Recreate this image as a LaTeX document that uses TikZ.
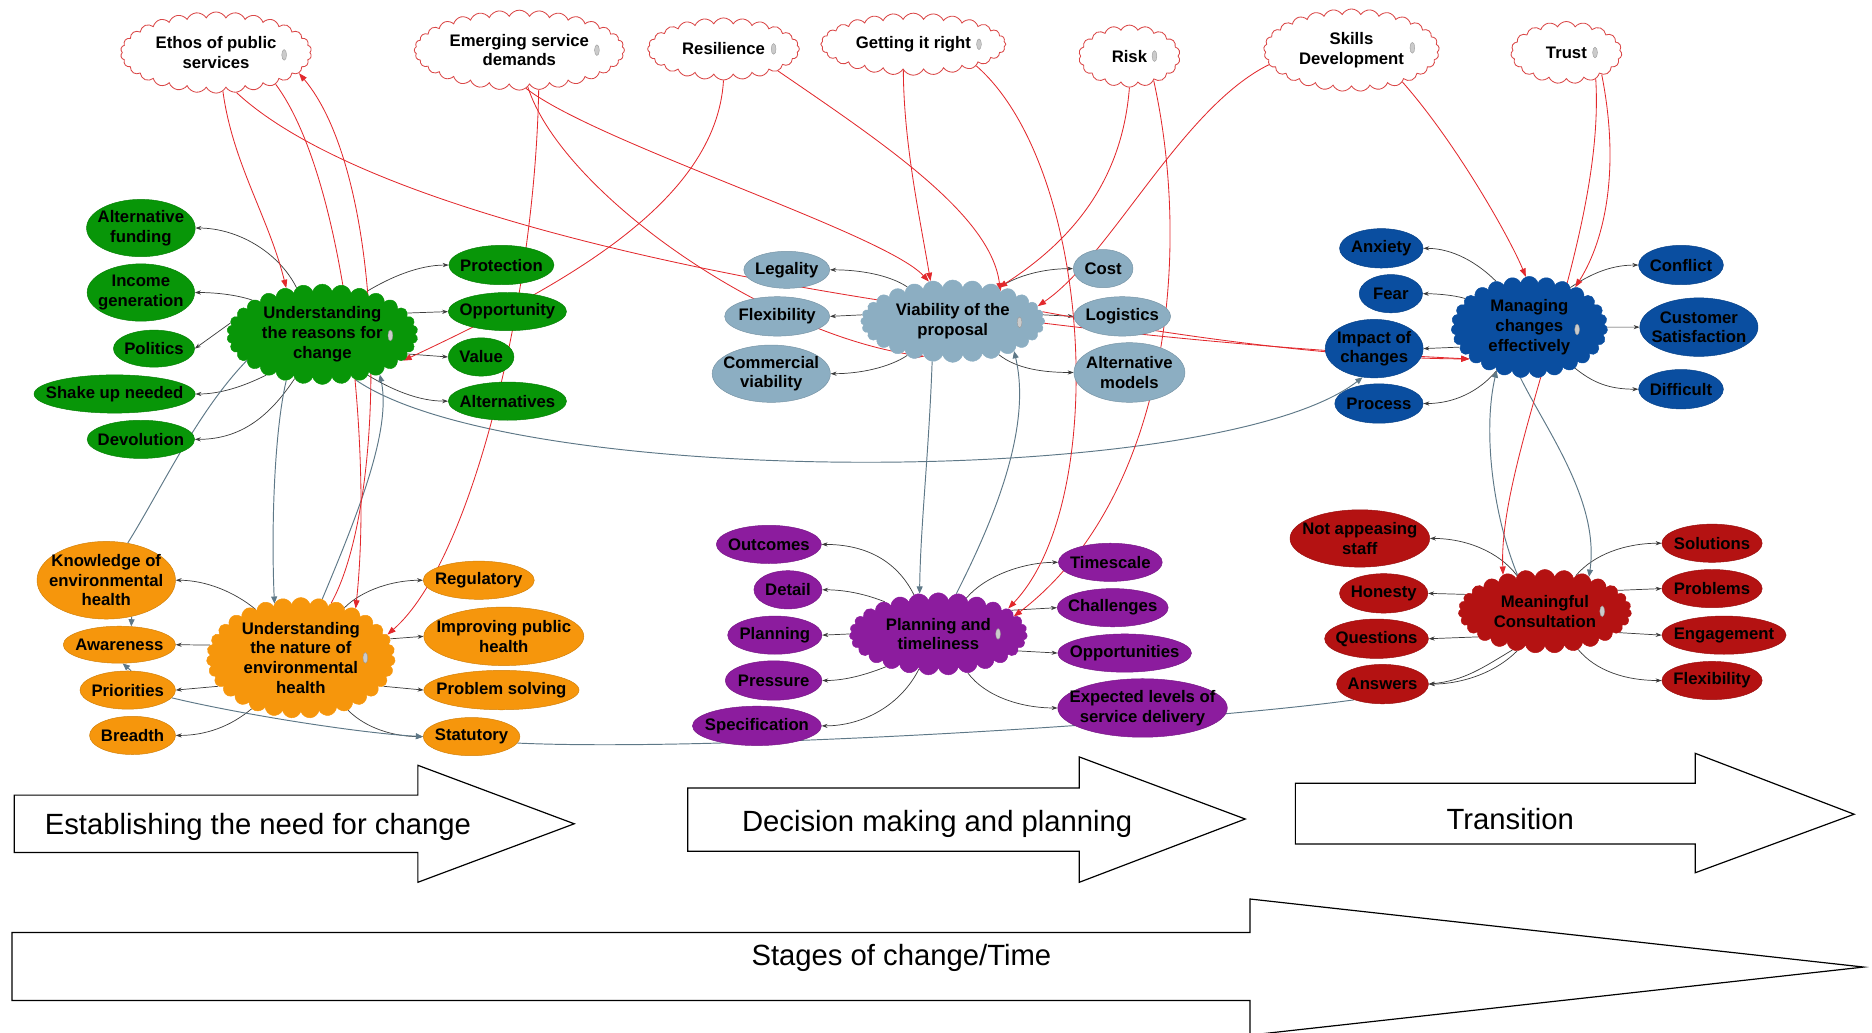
\documentclass[tikz,border=0pt]{standalone}
\usepackage{fontspec}
\setmainfont{Liberation Sans}
\usetikzlibrary{shapes.geometric,shapes.symbols,arrows.meta}
\pgfdeclarelayer{background}
\pgfsetlayers{background,main}
\definecolor{grn}{RGB}{8,150,8}
\definecolor{org}{RGB}{246,150,12}
\definecolor{slb}{RGB}{140,174,194}
\definecolor{pur}{RGB}{140,28,158}
\definecolor{blu}{RGB}{10,78,160}
\definecolor{crd}{RGB}{180,18,18}
\definecolor{lnred}{RGB}{226,40,44}
\definecolor{lnslate}{RGB}{94,120,135}
\definecolor{lndark}{RGB}{60,60,60}
\definecolor{cloudedge}{RGB}{218,70,70}
\definecolor{clipgray}{RGB}{150,150,150}

\begin{document}
\begin{tikzpicture}[x=1pt,y=-1pt,
  every node/.style={font=\fontsize{14}{16.5}\selectfont\bfseries, align=center},
  topic/.style={cloud, cloud ignores aspect, draw=cloudedge, line width=0.7pt, fill=white,
                cloud puff arc=125, inner xsep=-12pt, inner ysep=-4pt},
  hub/.style={cloud, cloud ignores aspect, fill=#1, draw=#1, cloud puff arc=150,
              inner xsep=-18pt, inner ysep=-8pt},
  sat/.style={ellipse, fill=#1, draw=#1!85!black, line width=0.4pt, inner xsep=-12pt, inner ysep=-6pt},
  sub/.style={draw=lndark, line width=0.6pt, -{Stealth[length=5pt,width=3.5pt]}},
  xlink/.style={draw=lnslate, line width=0.8pt},
  xarrow/.style={xlink, -{Triangle[length=6pt,width=5pt]}},
  rlink/.style={draw=lnred, line width=0.7pt},
  rarrow/.style={rlink, -{Triangle[length=7pt,width=5pt]}},
  stage/.style={draw=black, line width=1pt, fill=white},
  stagetext/.style={font=\fontsize{24.5}{28}\selectfont},
  pclip/.style={ellipse, fill=clipgray!50, draw=clipgray, line width=0.3pt,
                minimum width=4pt, minimum height=9pt, inner sep=0pt},
]
\useasboundingbox (0,0) rectangle (1568,865);

% ---------- themes (top row) ----------
\node[topic, cloud puffs=30, minimum width=160pt, minimum height=68pt] (eth) at (181,44) {Ethos of public\\services};
\node[topic, cloud puffs=32, minimum width=176pt, minimum height=67pt] (emg) at (435,42) {Emerging service\\demands};
\node[topic, cloud puffs=24, minimum width=127pt, minimum height=52pt] (res) at (606,41) {Resilience};
\node[topic, cloud puffs=28, minimum width=155pt, minimum height=52pt] (get) at (765,37) {Getting it right};
\node[topic, cloud puffs=18, minimum width=85pt, minimum height=52pt] (risk) at (946,47) {Risk};
\node[topic, cloud puffs=29, minimum width=147pt, minimum height=69pt] (skl) at (1132,42) {Skills\\Development};
\node[topic, cloud puffs=19, minimum width=93pt, minimum height=52pt] (tru) at (1312,44) {Trust};

% ---------- hubs ----------
\node[hub=grn, cloud puffs=30, minimum width=160pt, minimum height=84pt] (G) at (270,280) {Understanding\\the reasons for\\change};
\node[hub=org, cloud puffs=31, minimum width=158pt, minimum height=101pt] (O) at (252,551) {Understanding\\the nature of\\environmental\\health};
\node[hub=slb, cloud puffs=28, minimum width=154pt, minimum height=69pt] (V) at (798,269) {Viability of the\\proposal};
\node[hub=pur, cloud puffs=27, minimum width=149pt, minimum height=69pt] (P) at (786,531) {Planning and\\timeliness};
\node[hub=blu, cloud puffs=27, minimum width=131pt, minimum height=85pt] (M) at (1281,274) {Managing\\changes\\effectively};
\node[hub=crd, cloud puffs=27, minimum width=145pt, minimum height=70pt] (C) at (1294,512) {Meaningful\\Consultation};

% ---------- attachment marks ----------
\node[pclip] (k1) at (238,46) {};
\node[pclip] (k2) at (500,42) {};
\node[pclip] (k3) at (648,41) {};
\node[pclip] (k4) at (820,37) {};
\node[pclip] (k5) at (967,47) {};
\node[pclip] (k6) at (1183,40) {};
\node[pclip] (k7) at (1336,44) {};
\node[pclip] (k8) at (327,281) {};
\node[pclip] (k9) at (306,551) {};
\node[pclip] (k10) at (854,270) {};
\node[pclip] (k11) at (836,531) {};
\node[pclip] (k12) at (1321,276) {};
\node[pclip] (k13) at (1342,512) {};

% ---------- green satellites ----------
\node[sat=grn, minimum width=91pt, minimum height=48pt] (gaf) at (118,191) {Alternative\\funding};
\node[sat=grn, minimum width=90pt, minimum height=48pt] (gig) at (118,245) {Income\\generation};
\node[sat=grn, minimum width=68pt, minimum height=31pt] (gpo) at (129,292) {Politics};
\node[sat=grn, minimum width=135pt, minimum height=32pt] (gsu) at (96,330) {Shake up needed};
\node[sat=grn, minimum width=90pt, minimum height=32pt] (gde) at (118,368) {Devolution};
\node[sat=grn, minimum width=88pt, minimum height=33pt] (gpr) at (420,222) {Protection};
\node[sat=grn, minimum width=99pt, minimum height=32pt] (gop) at (425,261) {Opportunity};
\node[sat=grn, minimum width=55pt, minimum height=32pt] (gva) at (403,299) {Value};
\node[sat=grn, minimum width=99pt, minimum height=32pt] (gal) at (425,336) {Alternatives};

% ---------- orange satellites ----------
\node[sat=org, minimum width=116pt, minimum height=65pt] (okn) at (89,486) {Knowledge of\\environmental\\health};
\node[sat=org, minimum width=94pt, minimum height=31pt] (oaw) at (100,540) {Awareness};
\node[sat=org, minimum width=80pt, minimum height=32pt] (opr) at (107,578) {Priorities};
\node[sat=org, minimum width=72pt, minimum height=32pt] (obr) at (111,616) {Breadth};
\node[sat=org, minimum width=93pt, minimum height=32pt] (ore) at (401,486) {Regulatory};
\node[sat=org, minimum width=134pt, minimum height=49pt] (oim) at (422,533) {Improving public\\health};
\node[sat=org, minimum width=130pt, minimum height=33pt] (ops) at (420,578) {Problem solving};
\node[sat=org, minimum width=81pt, minimum height=32pt] (ost) at (395,617) {Statutory};

% ---------- viability satellites ----------
\node[sat=slb, minimum width=72pt, minimum height=31pt] (vle) at (659,226) {Legality};
\node[sat=slb, minimum width=88pt, minimum height=33pt] (vfl) at (651,265) {Flexibility};
\node[sat=slb, minimum width=99pt, minimum height=48pt] (vco) at (646,313) {Commercial\\viability};
\node[sat=slb, minimum width=50pt, minimum height=32pt] (vcs) at (924,225) {Cost};
\node[sat=slb, minimum width=81pt, minimum height=33pt] (vlo) at (940,265) {Logistics};
\node[sat=slb, minimum width=93pt, minimum height=50pt] (vam) at (946,312) {Alternative\\models};

% ---------- planning satellites ----------
\node[sat=pur, minimum width=88pt, minimum height=32pt] (pou) at (644,456) {Outcomes};
\node[sat=pur, minimum width=57pt, minimum height=32pt] (pde) at (660,494) {Detail};
\node[sat=pur, minimum width=79pt, minimum height=32pt] (ppl) at (649,532) {Planning};
\node[sat=pur, minimum width=81pt, minimum height=33pt] (ppr) at (648,570) {Pressure};
\node[sat=pur, minimum width=108pt, minimum height=33pt] (psp) at (634,608) {Specification};
\node[sat=pur, minimum width=87pt, minimum height=32pt] (pti) at (930,471) {Timescale};
\node[sat=pur, minimum width=93pt, minimum height=32pt] (pch) at (932,509) {Challenges};
\node[sat=pur, minimum width=112pt, minimum height=32pt] (pop) at (942,547) {Opportunities};
\node[sat=pur, minimum width=142pt, minimum height=49pt] (pex) at (957,593) {Expected levels of\\service delivery};

% ---------- managing satellites ----------
\node[sat=blu, minimum width=70pt, minimum height=33pt] (man) at (1157,208) {Anxiety};
\node[sat=blu, minimum width=53pt, minimum height=32pt] (mfe) at (1165,246) {Fear};
\node[sat=blu, minimum width=82pt, minimum height=49pt] (mim) at (1151,292) {Impact of\\changes};
\node[sat=blu, minimum width=74pt, minimum height=33pt] (mpr) at (1155,338) {Process};
\node[sat=blu, minimum width=71pt, minimum height=33pt] (mco) at (1408,222) {Conflict};
\node[sat=blu, minimum width=99pt, minimum height=49pt] (mcu) at (1423,274) {Customer\\Satisfaction};
\node[sat=blu, minimum width=71pt, minimum height=33pt] (mdi) at (1408,326) {Difficult};

% ---------- consultation satellites ----------
\node[sat=crd, minimum width=117pt, minimum height=48pt] (cna) at (1139,451) {Not appeasing\\staff};
\node[sat=crd, minimum width=74pt, minimum height=33pt] (cho) at (1159,497) {Honesty};
\node[sat=crd, minimum width=87pt, minimum height=33pt] (cqu) at (1153,535) {Questions};
\node[sat=crd, minimum width=77pt, minimum height=33pt] (can) at (1158,573) {Answers};
\node[sat=crd, minimum width=84pt, minimum height=32pt] (cso) at (1434,455) {Solutions};
\node[sat=crd, minimum width=84pt, minimum height=32pt] (cpb) at (1434,493) {Problems};
\node[sat=crd, minimum width=104pt, minimum height=32pt] (cen) at (1444,532) {Engagement};
\node[sat=crd, minimum width=84pt, minimum height=32pt] (cfl) at (1434,570) {Flexibility};

\begin{pgfonlayer}{background}
% ---------- hub to satellite links ----------
\draw[sub] (G.119) .. controls +(-15,-30) and +(35,0) .. (gaf.east);
\draw[sub] (G.154) .. controls +(-15,-5) and +(15,0) .. (gig.east);
\draw[sub] (G.173) -- (gpo.east);
\draw[sub] (G.216) .. controls +(-20,10) and +(20,0) .. (gsu.east);
\draw[sub] (G.238) .. controls +(-20,30) and +(40,0) .. (gde.east);
\draw[sub] (G.44) .. controls +(20,-12) and +(-25,0) .. (gpr.west);
\draw[sub] (G.14) -- (gop.west);
\draw[sub] (G.-13) -- (gva.west);
\draw[sub] (G.-42) .. controls +(20,12) and +(-25,0) .. (gal.west);

\draw[sub] (O.133) .. controls +(-18,-15) and +(25,0) .. (okn.east);
\draw[sub] (O.172) -- (oaw.east);
\draw[sub] (O.199) -- (opr.east);
\draw[sub] (O.226) .. controls +(-18,15) and +(25,0) .. (obr.east);
\draw[sub] (O.49) .. controls +(15,-15) and +(-25,0) .. (ore.west);
\draw[sub] (O.12) -- (oim.west);
\draw[sub] (O.-19) -- (ops.west);
\draw[sub] (O.-48) .. controls +(15,15) and +(-25,0) .. (ost.west);

\draw[sub] (V.143) .. controls +(-15,-10) and +(25,0) .. (vle.east);
\draw[sub] (V.176) -- (vfl.east);
\draw[sub] (V.217) .. controls +(-15,10) and +(25,0) .. (vco.east);
\draw[sub] (V.36) .. controls +(15,-10) and +(-25,0) .. (vcs.west);
\draw[sub] (V.4) -- (vlo.west);
\draw[sub] (V.-36) .. controls +(15,12) and +(-25,0) .. (vam.west);

\draw[sub] (P.122) .. controls +(-15,-30) and +(35,0) .. (pou.east);
\draw[sub] (P.149) .. controls +(-15,-6) and +(20,0) .. (pde.east);
\draw[sub] (P.180) -- (ppl.east);
\draw[sub] (P.212) .. controls +(-15,6) and +(20,0) .. (ppr.east);
\draw[sub] (P.241) .. controls +(-15,30) and +(35,0) .. (psp.east);
\draw[sub] (P.52) .. controls +(15,-18) and +(-30,0) .. (pti.west);
\draw[sub] (P.18) -- (pch.west);
\draw[sub] (P.-12) -- (pop.west);
\draw[sub] (P.-53) .. controls +(15,20) and +(-30,0) .. (pex.west);

\draw[sub] (M.126) .. controls +(-15,-15) and +(25,0) .. (man.east);
\draw[sub] (M.156) .. controls +(-10,-3) and +(10,0) .. (mfe.east);
\draw[sub] (M.196) -- (mim.east);
\draw[sub] (M.233) .. controls +(-15,18) and +(25,0) .. (mpr.east);
\draw[sub] (M.44) .. controls +(15,-10) and +(-25,0) .. (mco.west);
\draw[sub] (M.0) -- (mcu.west);
\draw[sub] (M.-42) .. controls +(15,12) and +(-25,0) .. (mdi.west);

\draw[sub] (C.128) .. controls +(-15,-20) and +(30,0) .. (cna.east);
\draw[sub] (C.168) -- (cho.east);
\draw[sub] (C.201) -- (cqu.east);
\draw[sub] (C.235) .. controls +(-20,20) and +(25,0) .. (can.east);
\draw[sub] (C.230) .. controls +(-25,15) and +(30,-3) .. (can.east);
\draw[sub] (C.49) .. controls +(15,-18) and +(-30,0) .. (cso.west);
\draw[sub] (C.16) -- (cpb.west);
\draw[sub] (C.-16) -- (cen.west);
\draw[sub] (C.-49) .. controls +(15,18) and +(-30,0) .. (cfl.west);

% ---------- links between groups ----------
\draw[xarrow] (G.-128) .. controls (230,360) and (227,440) .. (O.116);
\draw[xarrow] (O.70) .. controls (300,430) and (328,360) .. (G.-35);
\draw[xlink] (G.199) .. controls (165,345) and (135,410) .. (okn.60);
\draw[xarrow] (okn.-55) -- (oaw.57);
\draw[xarrow] (opr.80) -- (oaw.-80);
\draw[xarrow] (opr.-10) .. controls (200,598) and (300,614) .. (ost.west);
\draw[xlink] (ost.-8) .. controls (600,630) and (1000,605) .. (can.209);
\draw[xarrow] (G.-54) .. controls (430,410) and (1020,410) .. (mim.-112);
\draw[xarrow] (V.-117) .. controls (778,380) and (771,440) .. (P.115);
\draw[xarrow] (P.66) .. controls (830,440) and (865,360) .. (V.-26);
\draw[xarrow] (C.127) .. controls (1250,430) and (1242,360) .. (M.-127);
\draw[xarrow] (M.-100) .. controls (1295,360) and (1340,420) .. (C.38);

% ---------- theme links ----------
\draw[rarrow] (eth.-80) .. controls +(8,60) and +(-15,-60) .. (G.128);
\draw[rarrow] (eth.-63) .. controls (330,200) and (800,280) .. (M.208);
\draw[rarrow] (eth.-28) .. controls (290,150) and (312,380) .. (O.42);
\draw[rarrow] (O.61) .. controls (325,420) and (325,150) .. (eth.-14);
\draw[rarrow] (emg.-80) .. controls (500,120) and (740,195) .. (V.121);
\draw[rarrow] (emg.-77) .. controls (470,160) and (640,280) .. (V.-129);
\draw[rarrow] (emg.-64) .. controls (448,250) and (395,470) .. (O.15);
\draw[rarrow] (res.-90) .. controls (600,170) and (470,240) .. (G.-18);
\draw[rarrow] (res.-22) .. controls (740,120) and (830,180) .. (V.32);
\draw[rarrow] (get.-111) .. controls (757,120) and (770,180) .. (V.119);
\draw[rarrow] (get.-19) .. controls (915,140) and (930,420) .. (P.20);
\draw[rarrow] (risk.-90) .. controls (940,150) and (900,200) .. (V.36);
\draw[rarrow] (risk.-45) .. controls (1000,220) and (975,420) .. (P.13);
\draw[rarrow] (skl.-170) .. controls (990,90) and (930,215) .. (V.10);
\draw[rarrow] (skl.-32) .. controls (1220,120) and (1265,200) .. (M.94);
\draw[rarrow] (tru.-32) .. controls (1357,140) and (1345,200) .. (M.41);
\draw[rarrow] (tru.-42) .. controls (1345,200) and (1255,380) .. (C.139);
\draw[rarrow] (V.6) .. controls (950,275) and (1100,300) .. (M.208);
\end{pgfonlayer}

% ---------- stage arrows ----------
\draw[stage] (12,666) -- (350,666) -- (350,641) -- (481,690) -- (350,739) -- (350,714) -- (12,714) -- cycle;
\draw[stage] (576,660) -- (904,660) -- (904,634) -- (1043,686) -- (904,739) -- (904,713) -- (576,713) -- cycle;
\draw[stage] (1085,656) -- (1420,656) -- (1420,631) -- (1553,682) -- (1420,731) -- (1420,707) -- (1085,707) -- cycle;
\draw[stage] (10,781) -- (1047,781) -- (1047,753) -- (1561,810) -- (1047,867) -- (1047,838) -- (10,838) -- cycle;
\node[stagetext] (st1) at (216,693) {Establishing the need for change};
\node[stagetext] (st2) at (785,690) {Decision making and planning};
\node[stagetext] (st3) at (1265,686) {Transition};
\node[stagetext] (st4) at (755,802) {Stages of change/Time};
\end{tikzpicture}
\end{document}
